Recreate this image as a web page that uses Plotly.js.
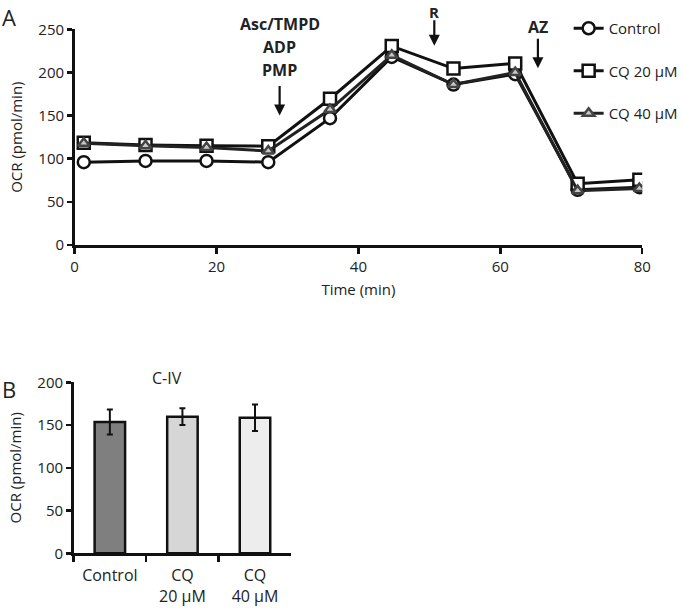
<!DOCTYPE html>
<html>
<head>
<meta charset="utf-8">
<script src="https://cdn.plot.ly/plotly-3.0.1.min.js"></script>
<style>html,body{margin:0;padding:0;background:#fff;}</style>
</head>
<body>
<div id="chart" style="width:683px;height:608px;"></div>
<script>
// ---- Panel A data ----
const timeMin = [1.3, 10.0, 18.6, 27.3, 36.0, 44.7, 53.4, 62.1, 70.9, 79.6];
const ocrControl = [96, 97.5, 97.5, 96, 147, 218, 186, 198, 64, 67];
const ocrCQ20 = [118.5, 116, 115, 114.5, 169.5, 230.5, 204.5, 210.5, 71, 75.5];
const ocrCQ40 = [118, 115, 113, 109, 157, 220, 186, 200, 63, 65.5];
const seriesNames = ['Control', 'CQ 20 µM', 'CQ 40 µM'];

// ---- Panel B data ----
const barCategories = ['Control', 'CQ<br>20 µM', 'CQ<br>40 µM'];
const barValues = [153.5, 159.8, 158.5];
const barErrors = [14.6, 9.8, 15.6];
const barColors = ['#7f7f7f', '#d6d6d6', '#ededed'];

// ---- injection markers ----
const injX = [28.9, 50.7, 65.3];
const injTipY = [150, 231, 205];
const injArrowLen = [31, 27, 31];

const FONT = 'Open Sans, sans-serif';
const lineW = 3;

const traces = [
  {x: timeMin, y: ocrControl, name: seriesNames[0], type: 'scatter', mode: 'lines+markers',
   xaxis: 'x', yaxis: 'y', legendgroup: 'a',
   line: {color: '#111', width: lineW},
   marker: {symbol: 'circle', size: 12, color: '#fff', line: {color: '#111', width: 2.5}}},
  {x: timeMin, y: ocrCQ20, name: seriesNames[1], type: 'scatter', mode: 'lines+markers',
   xaxis: 'x', yaxis: 'y', legendgroup: 'b',
   line: {color: '#111', width: lineW},
   marker: {symbol: 'square', size: 12, color: '#fff', line: {color: '#111', width: 2.5}}},
  {x: timeMin, y: ocrCQ40, name: seriesNames[2], type: 'scatter', mode: 'lines+markers',
   xaxis: 'x', yaxis: 'y', legendgroup: 'c',
   line: {color: '#222', width: lineW},
   marker: {symbol: 'triangle-up', size: 10, color: '#c8c8c8', line: {color: '#444', width: 2.5}}},
  {x: barCategories, y: barValues, type: 'bar', xaxis: 'x2', yaxis: 'y2', showlegend: false,
   width: 0.42,
   marker: {color: barColors, line: {color: '#111', width: 2.5}},
   error_y: {type: 'data', array: barErrors, visible: true, color: '#111', thickness: 2, width: 3}}
];

const axisCommon = {
  showgrid: false, zeroline: false, showline: true, linecolor: '#111', linewidth: 2.5,
  ticks: 'outside', tickcolor: '#111', tickwidth: 2.5, ticklen: 5,
  tickfont: {family: FONT, size: 15, color: '#222'}
};

const boldFont = {family: FONT, size: 16, color: '#222'};
const annotations = [
  {text: 'A', xref: 'paper', yref: 'paper', x: 0.0, y: 1.0, xanchor: 'left', yanchor: 'top', showarrow: false,
   font: {family: FONT, size: 22, color: '#222'}},
  {text: 'B', xref: 'paper', yref: 'paper', x: 0.0, y: 1 - 372/608, xanchor: 'left', yanchor: 'top', showarrow: false,
   font: {family: FONT, size: 22, color: '#222'}},
  {text: 'C-IV', xref: 'paper', yref: 'paper', x: 168/683, y: 1 - 378/608, xanchor: 'center', yanchor: 'middle', showarrow: false,
   font: {family: FONT, size: 16, color: '#222'}},
  {text: '<b>Asc/TMPD</b>', xref: 'x', yref: 'paper', x: injX[0], y: 1 - 24/608, yanchor: 'middle', showarrow: false, font: boldFont},
  {text: '<b>ADP</b>', xref: 'x', yref: 'paper', x: injX[0], y: 1 - 47/608, yanchor: 'middle', showarrow: false, font: boldFont},
  {text: '<b>PMP</b>', xref: 'x', yref: 'paper', x: injX[0], y: 1 - 70/608, yanchor: 'middle', showarrow: false, font: boldFont},
  {text: '<b>R</b>', xref: 'x', yref: 'paper', x: injX[1], y: 1.0, yanchor: 'top', showarrow: false,
   font: {family: FONT, size: 15, color: '#222'}},
  {text: '<b>AZ</b>', xref: 'x', yref: 'paper', x: injX[2], y: 1 - 27/608, yanchor: 'middle', showarrow: false, font: boldFont}
];
for (let i = 0; i < injX.length; i++) {
  annotations.push({text: '', xref: 'x', yref: 'y', x: injX[i], y: injTipY[i], ax: 0, ay: -injArrowLen[i],
    showarrow: true, arrowhead: 2, arrowsize: 1, arrowwidth: 2.2, arrowcolor: '#111'});
}

const layout = {
  width: 683, height: 608,
  margin: {l: 0, r: 0, t: 0, b: 0},
  paper_bgcolor: '#fff', plot_bgcolor: '#fff',
  font: {family: FONT, color: '#222'},
  showlegend: true,
  legend: {x: 572/683, y: 1 - 12/608, xanchor: 'left', yanchor: 'top', traceorder: 'grouped',
    tracegroupgap: 20, itemwidth: 30, font: {family: FONT, size: 15, color: '#222'}, bgcolor: 'rgba(0,0,0,0)'},
  xaxis: Object.assign({}, axisCommon, {domain: [75/683, 646/683], range: [0, 80], tickvals: [0, 20, 40, 60, 80], anchor: 'y',
    ticklen: 6,
    title: {text: 'Time (min)', font: {family: FONT, size: 15, color: '#222'}, standoff: 10}}),
  yaxis: Object.assign({}, axisCommon, {domain: [1 - 245/608, 1 - 29.3/608], range: [0, 250], tickvals: [0, 50, 100, 150, 200, 250], anchor: 'x',
    title: {text: 'OCR (pmol/min)', font: {family: FONT, size: 15, color: '#222'}, standoff: 12}}),
  xaxis2: Object.assign({}, axisCommon, {domain: [74/683, 293/683], range: [-0.5, 2.5], anchor: 'y2', tickson: 'boundaries',
    ticklen: 6, type: 'category', ticklabelstandoff: 6, tickfont: {family: FONT, size: 16, color: '#222'}}),
  yaxis2: Object.assign({}, axisCommon, {domain: [1 - 553.3/608, 1 - 382.3/608], range: [0, 200], tickvals: [0, 50, 100, 150, 200], anchor: 'x2',
    title: {text: 'OCR (pmol/min)', font: {family: FONT, size: 15, color: '#222'}, standoff: 12}}),
  annotations: annotations
};

Plotly.newPlot('chart', traces, layout, {displayModeBar: false, staticPlot: true});
</script>
</body>
</html>
